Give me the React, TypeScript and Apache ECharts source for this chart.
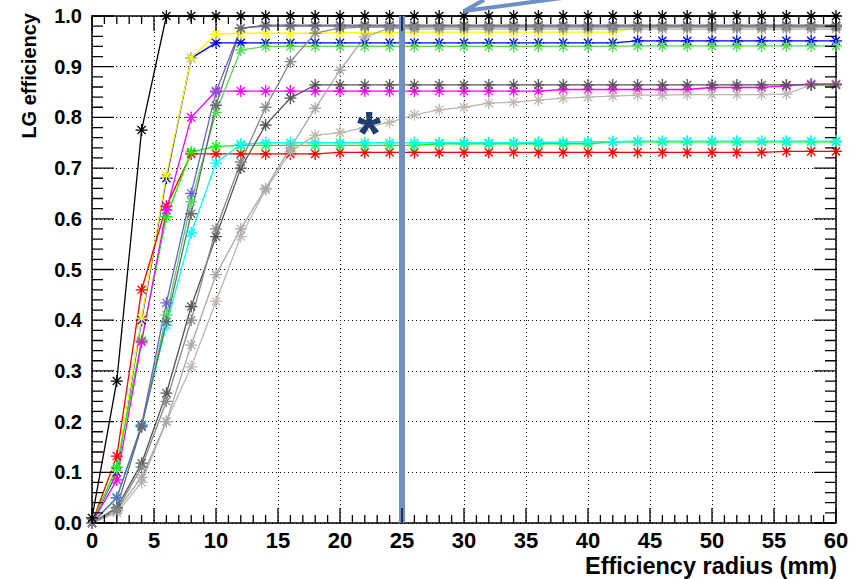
import React, { useEffect, useRef } from "react";
import * as echarts from "echarts";

// Efficiency radius sample points (mm)
const radii = [0, 2, 4, 6, 8, 10, 12, 14, 16, 18, 20, 22, 24, 26, 28, 30, 32, 34, 36, 38, 40, 42, 44, 46, 48, 50, 52, 54, 56, 58, 60];

const effBlack = [0.01, 0.28, 0.775, 1.0, 1.0, 1.0, 1.0, 1.0, 1.0, 1.0, 1.0, 1.0, 1.0, 1.0, 1.0, 1.0, 1.0, 1.0, 1.0, 1.0, 1.0, 1.0, 1.0, 1.0, 1.0, 1.0, 1.0, 1.0, 1.0, 1.0, 1.0];
const effYellow = [0.0, 0.105, 0.404, 0.686, 0.917, 0.964, 0.966, 0.966, 0.966, 0.966, 0.967, 0.967, 0.967, 0.968, 0.968, 0.968, 0.968, 0.968, 0.968, 0.968, 0.968, 0.968, 0.978, 0.978, 0.978, 0.978, 0.978, 0.978, 0.978, 0.978, 0.978];
const effBlue = [0.0, 0.1, 0.4, 0.68, 0.917, 0.947, 0.947, 0.947, 0.947, 0.947, 0.947, 0.947, 0.947, 0.947, 0.947, 0.947, 0.947, 0.947, 0.947, 0.947, 0.947, 0.947, 0.951, 0.951, 0.951, 0.951, 0.951, 0.951, 0.951, 0.951, 0.951];
const effRed = [0.0, 0.132, 0.46, 0.625, 0.728, 0.728, 0.728, 0.728, 0.728, 0.728, 0.731, 0.731, 0.731, 0.731, 0.731, 0.731, 0.731, 0.731, 0.731, 0.731, 0.731, 0.731, 0.731, 0.731, 0.731, 0.731, 0.731, 0.731, 0.733, 0.733, 0.733];
const effMagenta = [0.0, 0.085, 0.357, 0.617, 0.8, 0.852, 0.852, 0.852, 0.852, 0.852, 0.852, 0.852, 0.852, 0.852, 0.852, 0.852, 0.852, 0.852, 0.852, 0.855, 0.855, 0.855, 0.855, 0.855, 0.855, 0.859, 0.859, 0.859, 0.862, 0.866, 0.866];
const effGreen = [0.0, 0.11, 0.36, 0.604, 0.732, 0.743, 0.745, 0.745, 0.745, 0.745, 0.745, 0.745, 0.745, 0.745, 0.748, 0.748, 0.748, 0.748, 0.748, 0.748, 0.748, 0.752, 0.752, 0.752, 0.752, 0.752, 0.752, 0.752, 0.752, 0.752, 0.752];
const effCyan = [0.0, 0.049, 0.193, 0.39, 0.572, 0.71, 0.747, 0.75, 0.75, 0.75, 0.75, 0.75, 0.75, 0.75, 0.75, 0.75, 0.75, 0.75, 0.751, 0.751, 0.752, 0.752, 0.753, 0.753, 0.753, 0.753, 0.753, 0.753, 0.753, 0.753, 0.753];
const effSlate = [0.0, 0.05, 0.193, 0.434, 0.65, 0.85, 0.976, 0.98, 0.98, 0.98, 0.98, 0.98, 0.98, 0.98, 0.98, 0.98, 0.98, 0.98, 0.98, 0.98, 0.98, 0.98, 0.98, 0.98, 0.98, 0.98, 0.98, 0.98, 0.98, 0.98, 0.98];
const effLightGreen = [0.0, 0.05, 0.19, 0.41, 0.634, 0.81, 0.933, 0.94, 0.94, 0.94, 0.94, 0.94, 0.94, 0.94, 0.94, 0.94, 0.94, 0.94, 0.94, 0.94, 0.94, 0.94, 0.941, 0.941, 0.941, 0.941, 0.941, 0.941, 0.941, 0.941, 0.941];
const effDarkTop = [0.0, 0.03, 0.19, 0.397, 0.61, 0.824, 0.976, 0.982, 0.982, 0.982, 0.982, 0.982, 0.982, 0.982, 0.982, 0.982, 0.982, 0.982, 0.982, 0.982, 0.982, 0.982, 0.982, 0.982, 0.982, 0.982, 0.982, 0.982, 0.982, 0.982, 0.982];
const effDarkMid = [0.0, 0.03, 0.118, 0.256, 0.427, 0.565, 0.7, 0.785, 0.838, 0.864, 0.864, 0.864, 0.864, 0.864, 0.864, 0.864, 0.864, 0.864, 0.864, 0.864, 0.864, 0.864, 0.864, 0.864, 0.864, 0.864, 0.864, 0.864, 0.864, 0.864, 0.864];
const effGrayA = [0.0, 0.025, 0.11, 0.24, 0.4, 0.58, 0.712, 0.82, 0.91, 0.966, 0.976, 0.978, 0.978, 0.978, 0.978, 0.978, 0.978, 0.978, 0.978, 0.978, 0.978, 0.978, 0.978, 0.978, 0.978, 0.978, 0.978, 0.978, 0.978, 0.978, 0.978];
const effGrayB = [0.0, 0.025, 0.09, 0.2, 0.351, 0.49, 0.58, 0.66, 0.74, 0.818, 0.893, 0.959, 0.976, 0.974, 0.974, 0.974, 0.974, 0.974, 0.974, 0.974, 0.974, 0.974, 0.974, 0.974, 0.974, 0.974, 0.974, 0.974, 0.974, 0.974, 0.974];
const effLightGray = [0.0, 0.02, 0.08, 0.2, 0.308, 0.437, 0.565, 0.657, 0.732, 0.765, 0.77, 0.78, 0.79, 0.805, 0.815, 0.82, 0.828, 0.83, 0.834, 0.838, 0.84, 0.842, 0.844, 0.844, 0.845, 0.845, 0.845, 0.845, 0.846, 0.864, 0.865];

const cutRadius = 25;
const xRange = [0, 60];
const yRange = [0, 1];
const xMajorStep = 5;
const xMinorStep = 1;
const yMajorStep = 0.1;
const yMinorStep = 0.02;

const seriesDefs: { name: string; color: string; values: number[] }[] = [
  { name: "blue", color: "#0000ff", values: effBlue },
  { name: "yellow", color: "#ffff00", values: effYellow },
  { name: "red", color: "#ff0000", values: effRed },
  { name: "green", color: "#00ff00", values: effGreen },
  { name: "cyan", color: "#00ffff", values: effCyan },
  { name: "magenta", color: "#ff00ff", values: effMagenta },
  { name: "lightgreen", color: "#55d855", values: effLightGreen },
  { name: "lightgray", color: "#bfb6ae", values: effLightGray },
  { name: "grayB", color: "#a8a8a8", values: effGrayB },
  { name: "darkMid", color: "#555555", values: effDarkMid },
  { name: "slate", color: "#6464d2", values: effSlate },
  { name: "darkTop", color: "#6a6a6a", values: effDarkTop },
  { name: "grayA", color: "#888888", values: effGrayA },
  { name: "black", color: "#000000", values: effBlack },
];

const STAR = "path://M5,0L5,10M0,5L10,5M1.6,1.6L8.4,8.4M1.6,8.4L8.4,1.6";
const FONT = "Liberation Sans";
const W = 860;
const H = 579;
const GRID = { left: 92, right: 24, top: 16, bottom: 56 };

// Frame tick segments in data units (ROOT style, inside on all four sides),
// separated by empty points so the line series breaks between them.
function buildTickData(): any[] {
  const plotW = W - GRID.left - GRID.right;
  const plotH = H - GRID.top - GRID.bottom;
  const xSpan = xRange[1] - xRange[0];
  const ySpan = yRange[1] - yRange[0];
  const pts: any[] = [];
  const seg = (a: number[], b: number[]) => {
    pts.push([a[0], a[1]], [b[0], b[1]], [a[0], "-"]);
  };
  const nX = Math.round(xSpan / xMinorStep);
  const perX = Math.round(xMajorStep / xMinorStep);
  for (let i = 0; i <= nX; i++) {
    const v = xRange[0] + i * xMinorStep;
    const dy = ((i % perX === 0 ? 15 : 8) / plotH) * ySpan;
    seg([v, yRange[0]], [v, yRange[0] + dy]);
    seg([v, yRange[1]], [v, yRange[1] - dy]);
  }
  const nY = Math.round(ySpan / yMinorStep);
  const perY = Math.round(yMajorStep / yMinorStep);
  for (let j = 0; j <= nY; j++) {
    const v = yRange[0] + j * yMinorStep;
    const dx = ((j % perY === 0 ? 22 : 11) / plotW) * xSpan;
    seg([xRange[0], v], [xRange[0] + dx, v]);
    seg([xRange[1], v], [xRange[1] - dx, v]);
  }
  return pts;
}

export default function App() {
  const ref = useRef<HTMLDivElement>(null);
  useEffect(() => {
    if (!ref.current) return;
    const chart = echarts.init(ref.current, null, { renderer: "svg", width: W, height: H });
    const series: any[] = seriesDefs.map((s) => ({
      name: s.name,
      type: "line",
      data: radii.map((r, i) => [r, s.values[i]]),
      symbol: STAR,
      symbolSize: 12,
      showSymbol: true,
      showAllSymbol: true,
      lineStyle: { color: s.color, width: 1.3 },
      itemStyle: { color: s.color, borderColor: s.color, borderWidth: 1.3 },
      emphasis: { disabled: true },
    }));
    series.push({
      name: "frameTicks",
      type: "line",
      data: buildTickData(),
      symbol: "none",
      showSymbol: false,
      connectNulls: false,
      clip: false,
      z: 15,
      lineStyle: { color: "#000000", width: 1.3 },
      emphasis: { disabled: true },
    });
    series.push({
      name: "cut",
      type: "line",
      data: [],
      z: 10,
      markLine: {
        silent: true,
        symbol: ["none", "none"],
        label: { show: false },
        lineStyle: { color: "#6f90c2", width: 6, type: "solid" },
        data: [{ xAxis: cutRadius }],
      },
    });
    const frameLine = { show: true, onZero: false, lineStyle: { color: "#000", width: 1.5 } };
    chart.setOption({
      animation: false,
      backgroundColor: "#ffffff",
      grid: { ...GRID, containLabel: false },
      xAxis: [
        {
          type: "value",
          position: "bottom",
          min: xRange[0],
          max: xRange[1],
          interval: xMajorStep,
          axisLine: frameLine,
          axisTick: { show: false },
          minorTick: { show: false },
          splitLine: { show: true, lineStyle: { color: "#000", type: [1, 3], width: 1 } },
          axisLabel: {
            color: "#000",
            fontFamily: FONT,
            fontWeight: "bold",
            fontSize: 22,
            margin: 6,
          },
        },
        {
          type: "value",
          position: "top",
          min: xRange[0],
          max: xRange[1],
          interval: xMajorStep,
          axisLine: frameLine,
          axisTick: { show: false },
          splitLine: { show: false },
          axisLabel: { show: false },
        },
      ],
      yAxis: [
        {
          type: "value",
          position: "left",
          min: yRange[0],
          max: yRange[1],
          interval: yMajorStep,
          axisLine: frameLine,
          axisTick: { show: false },
          minorTick: { show: false },
          splitLine: { show: true, lineStyle: { color: "#000", type: [1, 3], width: 1 } },
          axisLabel: {
            color: "#000",
            fontFamily: FONT,
            fontWeight: "bold",
            fontSize: 20,
            margin: 10,
            formatter: (v: number) => v.toFixed(1),
          },
        },
        {
          type: "value",
          position: "right",
          min: yRange[0],
          max: yRange[1],
          interval: yMajorStep,
          axisLine: frameLine,
          axisTick: { show: false },
          splitLine: { show: false },
          axisLabel: { show: false },
        },
      ],
      series,
      graphic: {
        elements: [
          {
            type: "text",
            x: 29,
            y: 13,
            rotation: Math.PI / 2,
            style: {
              text: "LG efficiency",
              fill: "#000",
              font: `bold 20px "${FONT}"`,
              textAlign: "right",
              textVerticalAlign: "middle",
            },
          },
          {
            type: "text",
            x: 837,
            y: 566,
            style: {
              text: "Efficiency radius (mm)",
              fill: "#000",
              font: `bold 23.5px "${FONT}"`,
              textAlign: "right",
              textVerticalAlign: "middle",
            },
          },
          {
            type: "text",
            x: 369,
            y: 132,
            z: 20,
            style: {
              text: "*",
              fill: "#1f3d6e",
              font: `bold 62px "${FONT}"`,
              textAlign: "center",
              textVerticalAlign: "middle",
              shadowBlur: 3,
              shadowColor: "rgba(0,0,0,0.35)",
              shadowOffsetX: 1,
              shadowOffsetY: 1,
            },
          },
          {
            type: "polyline",
            z: 20,
            shape: { points: [[484, 0], [464, 11], [562, -2]] },
            style: { stroke: "#6f90c2", lineWidth: 4, fill: "none" },
          },
        ],
      },
    });
    return () => chart.dispose();
  }, []);
  return (
    <div
      ref={ref}
      style={{ position: "fixed", left: 0, top: 0, width: W, height: H, background: "#fff" }}
    />
  );
}
